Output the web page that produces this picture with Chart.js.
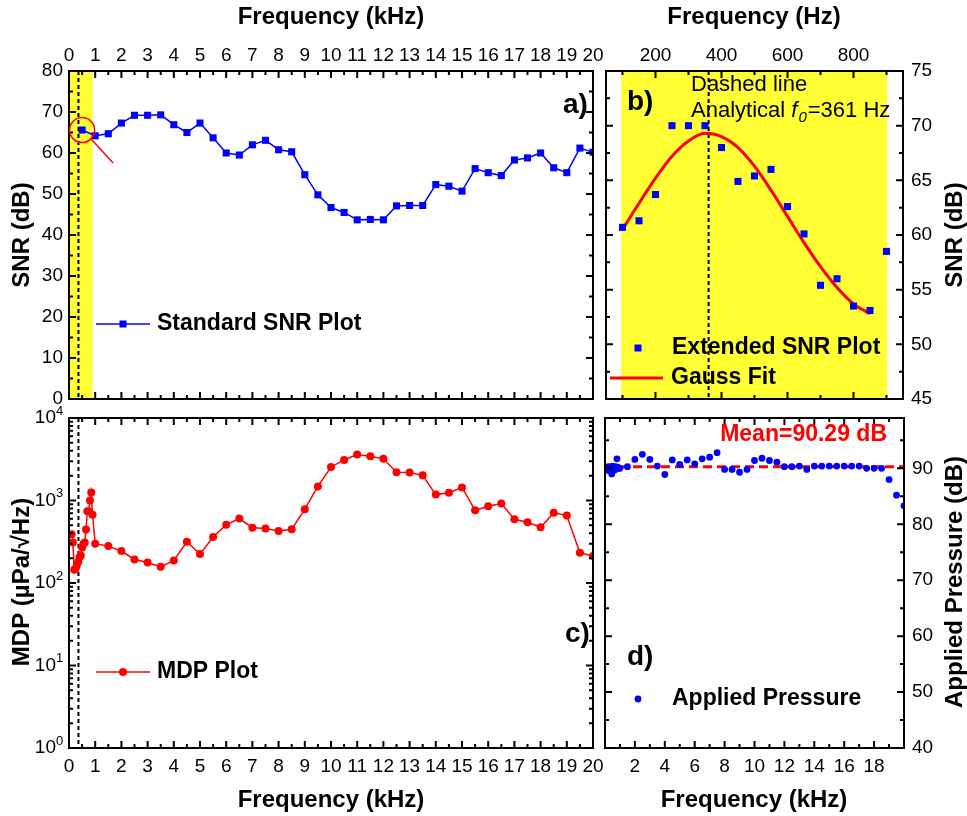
<!DOCTYPE html>
<html>
<head>
<meta charset="utf-8">
<script src="https://cdn.jsdelivr.net/npm/chart.js@4.4.1/dist/chart.umd.min.js"></script>
<style>
  body { margin: 0; background: #fff; }
  canvas { position: absolute; left: 0; top: 0; }
</style>
</head>
<body>
<canvas id="chartA" width="967" height="816"></canvas>
<canvas id="chartB" width="967" height="816"></canvas>
<canvas id="chartC" width="967" height="816"></canvas>
<canvas id="chartD" width="967" height="816"></canvas>
<script>
// ---- data ----
// a) standard SNR sweep, kHz
const freqStd = [0.5, 1, 1.5, 2, 2.5, 3, 3.5, 4, 4.5, 5, 5.5, 6, 6.5, 7, 7.5, 8, 8.5, 9, 9.5, 10,
                 10.5, 11, 11.5, 12, 12.5, 13, 13.5, 14, 14.5, 15, 15.5, 16, 16.5, 17, 17.5, 18, 18.5, 19, 19.5, 20];
const snrStd = [65.6, 64.2, 64.7, 67.3, 69.2, 69.2, 69.3, 66.9, 65.0, 67.3, 63.7, 60.0, 59.5, 62.0, 63.1, 60.8, 60.3, 54.7, 49.8, 46.7,
                45.5, 43.7, 43.8, 43.7, 47.1, 47.2, 47.2, 52.3, 51.9, 50.7, 56.2, 55.2, 54.5, 58.3, 58.8, 60.0, 56.4, 55.2, 61.2, 60.2];

// b) extended SNR sweep, Hz
const freqExtHz = [100, 150, 200, 250, 300, 350, 400, 450, 500, 550, 600, 650, 700, 750, 800, 850, 900];
const snrExt = [60.7, 61.3, 63.7, 70.0, 70.0, 70.0, 68.0, 64.9, 65.4, 66.0, 62.6, 60.1, 55.4, 56.0, 53.5, 53.1, 58.5];
const gaussHz = [100, 150, 200, 250, 300, 350, 400, 450, 500, 550, 600, 650, 700, 750, 800, 850];
const gaussSnr = [60.5, 62.9, 65.2, 67.2, 68.6, 69.3, 69.0, 68.0, 66.3, 64.1, 61.7, 59.3, 57.1, 55.2, 53.7, 52.8];

// c) and d) extended + standard points, kHz
const freqAll = [0.1, 0.15, 0.2, 0.25, 0.3, 0.35, 0.4, 0.45, 0.5, 0.55, 0.6, 0.65, 0.7, 0.75, 0.8, 0.85, 0.9,
                 1, 1.5, 2, 2.5, 3, 3.5, 4, 4.5, 5, 5.5, 6, 6.5, 7, 7.5, 8, 8.5, 9, 9.5, 10,
                 10.5, 11, 11.5, 12, 12.5, 13, 13.5, 14, 14.5, 15, 15.5, 16, 16.5, 17, 17.5, 18, 18.5, 19, 19.5, 20];
const mdp = [390, 310, 145, 150, 165, 180, 205, 215, 270, 300, 310, 445, 740, 740, 1000, 1250, 670,
             300, 280, 244, 193, 177, 157, 188, 316, 224, 361, 509, 603, 468, 457, 427, 448, 785, 1480, 2550,
             3100, 3600, 3440, 3200, 2200, 2180, 2020, 1180, 1240, 1440, 760, 850, 918, 593, 545, 473, 708, 656, 232, 212];
const pressure = [90.0, 90.2, 89.6, 90.3, 89.8, 90.1, 89.5, 89.0, 90.4, 89.9, 90.2, 89.7, 90.3, 90.0, 91.7, 90.2, 90.0,
                  90.0, 90.3, 91.6, 92.5, 91.6, 90.4, 88.9, 91.5, 90.7, 91.5, 90.8, 91.7, 92.0, 92.8, 89.8, 89.8, 89.3, 89.8, 91.4,
                  91.8, 91.4, 91.1, 90.3, 90.3, 90.4, 89.8, 90.4, 90.4, 90.4, 90.4, 90.4, 90.4, 90.4, 90.0, 90.0, 90.0, 88.0, 85.2, 83.3];

const f0Hz = 361;            // analytical resonance
const meanPressure = 90.29;  // dB
const bandA = [0, 0.9];      // kHz, highlighted range in a)
const bandB = [96, 902];     // Hz, highlighted range in b)

// ---- styling helpers ----
const FONT = '"Liberation Sans", Arial, Helvetica, sans-serif';
Chart.defaults.font.family = FONT;
Chart.defaults.color = '#000';
const BLUE = '#0000ff', RED = '#ff0000', YELLOW = '#ffff33';

function range(a, b, s) {
  const r = [];
  for (let v = a; v <= b + 1e-9; v += s) r.push(+v.toFixed(4));
  return r;
}
const pts = (xs, ys) => xs.map((x, i) => ({x: x, y: ys[i]}));

function axis(pos, min, max, tickVals, size, pad, extra) {
  return Object.assign({
    type: 'linear', position: pos, min: min, max: max,
    afterBuildTicks: s => { s.ticks = tickVals.map(v => ({value: v})); },
    afterFit: s => { if (pos === 'top' || pos === 'bottom') s.height = size; else s.width = size; },
    grid: {display: false, drawTicks: false},
    border: {display: false},
    ticks: {font: {size: 19}, padding: pad, autoSkip: false, maxRotation: 0, color: '#000'}
  }, extra || {});
}

function text(ctx, str, x, y, font, opts) {
  opts = opts || {};
  ctx.save();
  ctx.font = font;
  ctx.fillStyle = opts.color || '#000';
  ctx.textAlign = opts.align || 'left';
  ctx.textBaseline = 'middle';
  if (opts.rot) { ctx.translate(x, y); ctx.rotate(opts.rot); ctx.fillText(str, 0, 0); }
  else ctx.fillText(str, x, y);
  ctx.restore();
}

function drawFrame(c, t) {
  const ctx = c.ctx, a = c.chartArea, x = c.scales.x, y = c.scales.y;
  ctx.save();
  ctx.strokeStyle = '#000';
  ctx.lineWidth = 2;
  ctx.strokeRect(a.left, a.top, a.right - a.left, a.bottom - a.top);
  ctx.beginPath();
  const tick = (vals, len, horiz) => vals.forEach(v => {
    if (horiz) {
      const px = x.getPixelForValue(v);
      ctx.moveTo(px, a.top); ctx.lineTo(px, a.top + len);
      ctx.moveTo(px, a.bottom); ctx.lineTo(px, a.bottom - len);
    } else {
      const py = y.getPixelForValue(v);
      ctx.moveTo(a.left, py); ctx.lineTo(a.left + len, py);
      ctx.moveTo(a.right, py); ctx.lineTo(a.right - len, py);
    }
  });
  tick(t.xMajor, 7, true); tick(t.xMinor, 4, true);
  tick(t.yMajor, 7, false); tick(t.yMinor, 4, false);
  ctx.stroke();
  ctx.restore();
}

function vDash(ctx, px, a) {
  ctx.save();
  ctx.strokeStyle = '#000'; ctx.lineWidth = 2; ctx.setLineDash([4, 3]);
  ctx.beginPath(); ctx.moveTo(px, a.top); ctx.lineTo(px, a.bottom); ctx.stroke();
  ctx.restore();
}

function legendItem(ctx, x, y, label, o) {
  ctx.save();
  if (o.line) {
    ctx.strokeStyle = o.color; ctx.lineWidth = o.lineWidth || 1.5;
    ctx.beginPath(); ctx.moveTo(o.line[0], y); ctx.lineTo(o.line[1], y); ctx.stroke();
  }
  ctx.fillStyle = o.color;
  if (o.marker === 'rect') ctx.fillRect(o.mx - 3.5, y - 3.5, 7, 7);
  if (o.marker === 'circle') { ctx.beginPath(); ctx.arc(o.mx, y, o.r || 4, 0, Math.PI * 2); ctx.fill(); }
  ctx.restore();
  text(ctx, label, x, y, 'bold 23px ' + FONT);
}

function deco(frame, under, over) {
  return {
    id: 'deco',
    beforeDatasetsDraw(c) { if (under) under(c.ctx, c.scales.x, c.scales.y, c.chartArea); },
    afterDatasetsDraw(c) { drawFrame(c, frame); },
    afterDraw(c) { if (over) over(c.ctx, c.scales.x, c.scales.y, c.chartArea); }
  };
}

function makeChart(id, datasets, scales, padding, plugin) {
  return new Chart(document.getElementById(id), {
    type: 'scatter',
    data: {datasets: datasets},
    options: {
      responsive: false, animation: false, devicePixelRatio: 1, events: [],
      layout: {autoPadding: false, padding: padding},
      plugins: {legend: {display: false}, tooltip: {enabled: false}},
      scales: scales
    },
    plugins: [plugin]
  });
}

const TITLE = 'bold 24px ' + FONT;
const PANEL = 'bold 28px ' + FONT;

// ---- a) standard SNR ----
makeChart('chartA', [{
    data: pts(freqStd, snrStd), showLine: true, borderColor: BLUE, borderWidth: 1.5,
    backgroundColor: BLUE, pointStyle: 'rect', pointRadius: 5, pointBorderWidth: 0
  }],
  {
    x: axis('top', 0, 20, range(0, 20, 1), 71, 4),
    y: axis('left', 0, 80, range(0, 80, 10), 69, 6)
  },
  {left: 0, top: 0, right: 374, bottom: 417},
  deco({xMajor: range(0, 20, 1), xMinor: range(0.5, 19.5, 1), yMajor: range(0, 80, 10), yMinor: range(5, 75, 10)},
    (ctx, x, y, a) => {
      ctx.fillStyle = YELLOW;
      const l = x.getPixelForValue(bandA[0]), r = x.getPixelForValue(bandA[1]);
      ctx.fillRect(l, a.top, r - l, a.bottom - a.top);
      vDash(ctx, x.getPixelForValue(f0Hz / 1000), a);
    },
    (ctx, x, y, a) => {
      const cx = x.getPixelForValue(freqStd[0]), cy = y.getPixelForValue(snrStd[0]);
      ctx.save();
      ctx.strokeStyle = RED; ctx.lineWidth = 1.5;
      ctx.beginPath(); ctx.arc(cx, cy, 12.5, 0, Math.PI * 2); ctx.stroke();
      ctx.beginPath(); ctx.moveTo(cx + 9, cy + 9); ctx.lineTo(cx + 31, cy + 33); ctx.stroke();
      ctx.restore();
      legendItem(ctx, 157, 324, 'Standard SNR Plot', {color: BLUE, line: [96, 150], marker: 'rect', mx: 123});
      text(ctx, 'a)', 563, 105, PANEL);
      text(ctx, 'Frequency (kHz)', 331, 17, TITLE, {align: 'center'});
      text(ctx, 'SNR (dB)', 22, 235, TITLE, {align: 'center', rot: -Math.PI / 2});
    })
);

// ---- b) extended SNR with Gauss fit ----
makeChart('chartB', [
    {data: pts(freqExtHz, snrExt), showLine: false, backgroundColor: BLUE, pointStyle: 'rect', pointRadius: 5, pointBorderWidth: 0},
    {data: pts(gaussHz, gaussSnr), showLine: true, borderColor: RED, borderWidth: 3, pointRadius: 0,
     cubicInterpolationMode: 'monotone'}
  ],
  {
    x: axis('top', 50, 950, [200, 400, 600, 800], 71, 4),
    y: axis('right', 45, 75, range(45, 75, 5), 64, 8)
  },
  {left: 606, top: 0, right: 0, bottom: 417},
  deco({xMajor: [200, 400, 600, 800], xMinor: [100, 300, 500, 700, 900], yMajor: range(45, 75, 5), yMinor: range(47.5, 72.5, 5)},
    (ctx, x, y, a) => {
      ctx.fillStyle = YELLOW;
      const l = x.getPixelForValue(bandB[0]), r = x.getPixelForValue(bandB[1]);
      ctx.fillRect(l, a.top, r - l, a.bottom - a.top);
      vDash(ctx, x.getPixelForValue(f0Hz), a);
    },
    (ctx, x, y, a) => {
      const reg = '22px ' + FONT, ital = 'italic 22px ' + FONT, sub = 'italic 15px ' + FONT;
      text(ctx, 'Dashed line', 691, 85, reg);
      ctx.save();
      let px = 691;
      ctx.font = reg; text(ctx, 'Analytical ', px, 111, reg); px += ctx.measureText('Analytical ').width;
      ctx.font = ital; text(ctx, 'f', px, 111, ital); px += ctx.measureText('f').width + 1;
      ctx.font = sub; text(ctx, '0', px, 118, sub); px += ctx.measureText('0').width + 1;
      text(ctx, '=' + f0Hz + ' Hz', px, 111, reg);
      ctx.restore();
      text(ctx, 'b)', 627, 102, PANEL);
      legendItem(ctx, 672, 348, 'Extended SNR Plot', {color: BLUE, marker: 'rect', mx: 638});
      legendItem(ctx, 671, 378, 'Gauss Fit', {color: RED, line: [610, 663], lineWidth: 3});
      text(ctx, 'Frequency (Hz)', 754, 17, TITLE, {align: 'center'});
      text(ctx, 'SNR (dB)', 955, 235, TITLE, {align: 'center', rot: -Math.PI / 2});
    })
);

// ---- c) MDP, log scale ----
const logMajor = [1, 10, 100, 1000, 10000];
const logMinor = [];
[1, 10, 100, 1000].forEach(d => { for (let k = 2; k <= 9; k++) logMinor.push(k * d); });

makeChart('chartC', [{
    data: pts(freqAll, mdp), showLine: true, borderColor: RED, borderWidth: 1.5,
    backgroundColor: RED, pointStyle: 'circle', pointRadius: 4, pointBorderWidth: 0
  }],
  {
    x: axis('bottom', 0, 20, range(0, 20, 1), 68, 7),
    y: axis('left', 1, 10000, logMajor, 69, 6, {type: 'logarithmic'})
  },
  {left: 0, top: 418, right: 374, bottom: 0},
  deco({xMajor: range(0, 20, 1), xMinor: range(0.5, 19.5, 1), yMajor: logMajor, yMinor: logMinor},
    (ctx, x, y, a) => { vDash(ctx, x.getPixelForValue(f0Hz / 1000), a); },
    (ctx, x, y, a) => {
      // decade labels as 10 with a raised exponent
      logMajor.forEach(v => {
        const py = y.getPixelForValue(v), e = String(Math.round(Math.log10(v)));
        text(ctx, '10', 56, py, '19px ' + FONT, {align: 'right'});
        text(ctx, e, 56, py - 7, '13px ' + FONT);
      });
      legendItem(ctx, 157, 672, 'MDP Plot', {color: RED, line: [96, 150], marker: 'circle', mx: 123, r: 4});
      text(ctx, 'c)', 565, 634, PANEL);
      text(ctx, 'Frequency (kHz)', 331, 800, TITLE, {align: 'center'});
      text(ctx, 'MDP (\u00b5Pa/\u221aHz)', 22, 582, TITLE, {align: 'center', rot: -Math.PI / 2});
    })
);
Chart.getChart('chartC').options.scales.y.ticks.display = false;
Chart.getChart('chartC').update();

// ---- d) applied pressure ----
makeChart('chartD', [
    {data: pts(freqAll, pressure), showLine: false, backgroundColor: BLUE, pointStyle: 'circle', pointRadius: 3.4, pointBorderWidth: 0},
    {data: [{x: 0, y: meanPressure}, {x: 20, y: meanPressure}], showLine: true, borderColor: RED, borderWidth: 3,
     borderDash: [9, 5], pointRadius: 0}
  ],
  {
    x: axis('bottom', 0, 20, range(2, 18, 2), 68, 7),
    y: axis('right', 40, 99, range(40, 90, 10), 63, 8)
  },
  {left: 605, top: 418, right: 0, bottom: 0},
  deco({xMajor: range(0, 20, 2), xMinor: range(1, 19, 2), yMajor: range(40, 90, 10), yMinor: range(45, 95, 10)},
    null,
    (ctx, x, y, a) => {
      text(ctx, 'Mean=' + meanPressure.toFixed(2) + ' dB', 887, 435, 'bold 23px ' + FONT, {align: 'right', color: RED});
      text(ctx, 'd)', 627, 657, PANEL);
      legendItem(ctx, 672, 699, 'Applied Pressure', {color: BLUE, marker: 'circle', mx: 638, r: 3.4});
      text(ctx, 'Frequency (kHz)', 754, 800, TITLE, {align: 'center'});
      text(ctx, 'Applied Pressure (dB)', 955, 582, TITLE, {align: 'center', rot: -Math.PI / 2});
    })
);
</script>
</body>
</html>
